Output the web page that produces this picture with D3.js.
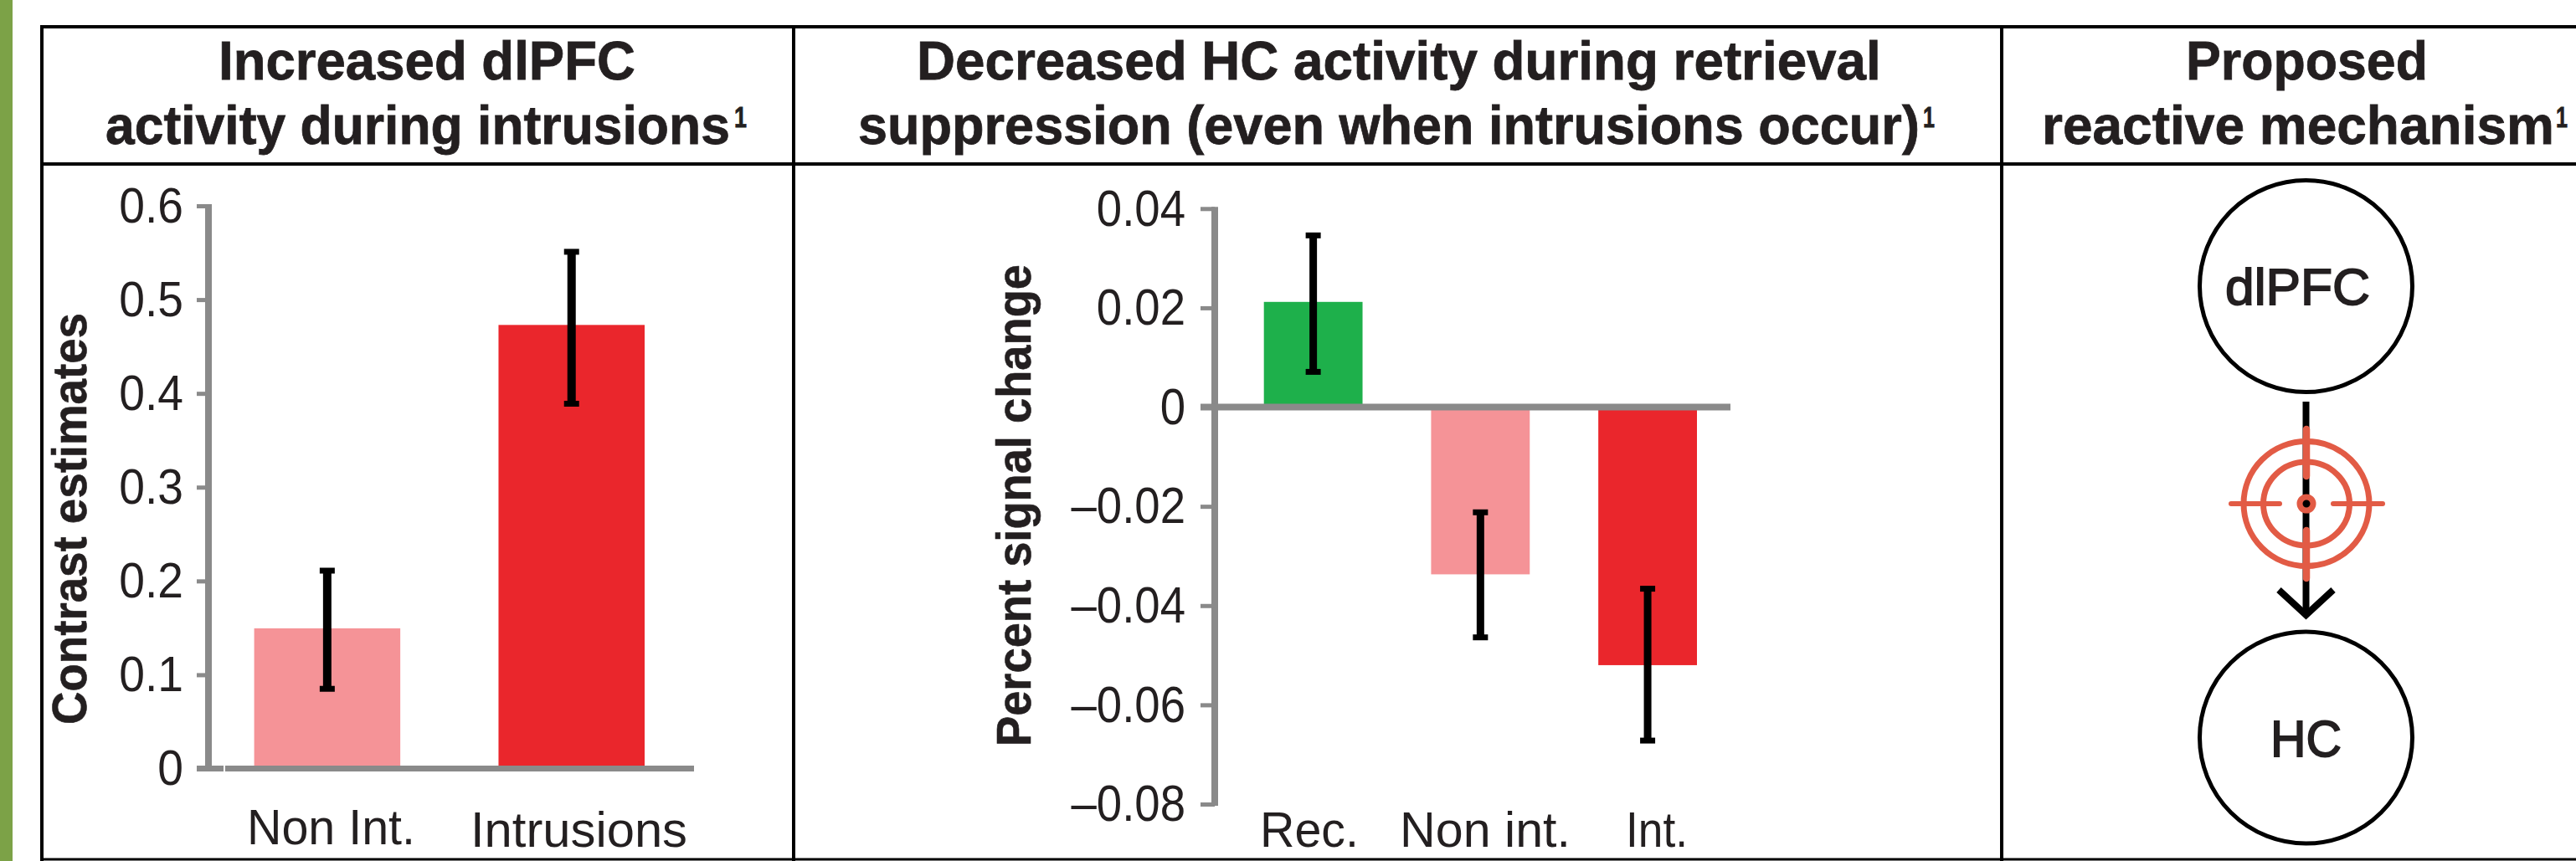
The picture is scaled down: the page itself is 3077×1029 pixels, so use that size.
<!DOCTYPE html>
<html><head><meta charset="utf-8">
<script src="https://cdnjs.cloudflare.com/ajax/libs/d3/7.8.5/d3.min.js"></script>
<style>html,body{margin:0;padding:0;background:#fff}svg{display:block}text{font-family:"Liberation Sans",Arial,sans-serif;fill:#231f20}</style>
</head><body><svg id="c" width="3077" height="1029"></svg>
<script>
// ---- data ----
const cats1 = ["Non Int.", "Intrusions"];
const vals1 = [0.1495, 0.473];
const errLo1 = [0.085, 0.389];
const errHi1 = [0.211, 0.551];
const ticks1 = [0, 0.1, 0.2, 0.3, 0.4, 0.5, 0.6];
const cats2 = ["Rec.", "Non int.", "Int."];
const vals2 = [0.0212, -0.0337, -0.052];
const errLo2 = [0.0071, -0.0464, -0.0672];
const errHi2 = [0.0346, -0.0212, -0.0366];
const ticks2 = [0.04, 0.02, 0, -0.02, -0.04, -0.06, -0.08];
const pink = "#f59397", red = "#ea262c", green = "#1eb04b", gray = "#8a8a8a";
const colors1 = [pink, red];
const colors2 = [green, pink, red];

const svg = d3.select("#c");
const INK = "#000";

// ---- strip and table frame ----
svg.append("rect").attr("x",0).attr("y",0).attr("width",15).attr("height",1029).attr("fill","#7ca247");
const hl = (x1,x2,y,w)=>svg.append("line").attr("x1",x1).attr("x2",x2).attr("y1",y).attr("y2",y).attr("stroke",INK).attr("stroke-width",w);
const vl = (x,y1,y2,w)=>svg.append("line").attr("x1",x).attr("x2",x).attr("y1",y1).attr("y2",y2).attr("stroke",INK).attr("stroke-width",w);
hl(48,3077,32,4); hl(48,3077,196,4); hl(48,3077,1027,3);
vl(50,30,1029,4); vl(948,30,1029,4); vl(2391,30,1029,4);

// ---- titles ----
function fit(x1,x2,base,txt,size,weight){
  const t = svg.append("text").attr("font-size",size).attr("font-weight",weight||"bold")
    .attr("stroke","#231f20").attr("stroke-width",0.8).text(txt);
  const w = t.node().getComputedTextLength();
  t.attr("transform",`translate(${x1},${base}) scale(${(x2-x1)/w},1)`);
  return t;
}
fit(261,759,95,"Increased dlPFC",64);
fit(126,872,172,"activity during intrusions",64);
fit(877,892,152,"1",36);
fit(1095,2247,95,"Decreased HC activity during retrieval",64);
fit(1025,2293,172,"suppression (even when intrusions occur)",64);
fit(2297,2311,152,"1",36);
fit(2611,2900,95,"Proposed",64);
fit(2439,3051,172,"reactive mechanism",64);
fit(3053,3067,152,"1",36);

// ---- bar panel ----
function panel(o){
  const g = svg.append("g");
  const y = d3.scaleLinear().domain(o.domain).range(o.yRange);
  const x = d3.scaleBand().domain(o.cats).range(o.xRange).paddingInner(o.pad).paddingOuter(0);
  const rows = o.cats.map((c,i)=>({c,v:o.vals[i],lo:o.lo[i],hi:o.hi[i],col:o.colors[i]}));
  g.selectAll("rect.bar").data(rows).join("rect").attr("class","bar")
    .attr("x",d=>x(d.c)).attr("width",x.bandwidth())
    .attr("y",d=>Math.min(y(d.v),y(0))).attr("height",d=>Math.abs(y(d.v)-y(0)))
    .attr("fill",d=>d.col);

  const ax = g.append("g").attr("transform",`translate(${o.axisX},0)`)
    .call(d3.axisLeft(y).tickValues(o.ticks).tickSize(o.tick).tickSizeOuter(0).tickPadding(o.tickPad)
      .tickFormat(v=>v===0?"0":(v<0?"\u2013":"")+Math.abs(v).toFixed(o.dec)));
  ax.select(".domain").attr("stroke",gray).attr("stroke-width",8).attr("d",`M0,${y.range()[1]-2}V${y.range()[0]+2}`);
  ax.selectAll(".tick line").attr("stroke",gray).attr("stroke-width",5);
  ax.selectAll(".tick text").attr("font-size",o.tickFont).attr("fill","#231f20").attr("font-family","Liberation Sans").attr("dy",o.tickDy)
    .each(function(){
      const w=this.getComputedTextLength();
      d3.select(this).attr("textLength",w*o.tickSqueeze).attr("lengthAdjust","spacingAndGlyphs");
    });

  // baseline
  g.append("line").attr("x1",o.base[0]).attr("x2",o.base[1]).attr("y1",y(0)).attr("y2",y(0)).attr("stroke",gray).attr("stroke-width",o.baseW);
  if(o.stub) g.append("line").attr("x1",o.stub[0]).attr("x2",o.stub[1]).attr("y1",y(0)).attr("y2",y(0)).attr("stroke",gray).attr("stroke-width",o.baseW);

  // error bars
  const cx = d=>x(d.c)+x.bandwidth()/2;
  g.selectAll("line.stem").data(rows).join("line").attr("class","stem")
    .attr("x1",cx).attr("x2",cx).attr("y1",d=>y(d.hi)).attr("y2",d=>y(d.lo)).attr("stroke",INK).attr("stroke-width",o.stemW);
  ["hi","lo"].forEach(k=>{
    g.selectAll("line.cap"+k).data(rows).join("line").attr("class","cap"+k)
      .attr("x1",d=>cx(d)-o.capW/2).attr("x2",d=>cx(d)+o.capW/2)
      .attr("y1",d=>y(d[k])).attr("y2",d=>y(d[k])).attr("stroke",INK).attr("stroke-width",7);
  });

  // category labels
  g.selectAll("text.cat").data(rows).join("text").attr("class","cat")
    .attr("x",(d,i)=>o.catX[i][0]).attr("y",(d,i)=>o.catBase[i])
    .attr("font-size",o.catFont).attr("textLength",(d,i)=>o.catX[i][1]-o.catX[i][0])
    .attr("lengthAdjust","spacingAndGlyphs").text(d=>d.c);

  // y title
  const t = o.title;
  g.append("text").attr("transform",`translate(${t.x},${t.y2}) rotate(-90)`).attr("font-size",t.size).attr("font-weight","bold")
    .attr("textLength",t.y2-t.y1).attr("lengthAdjust","spacingAndGlyphs").attr("stroke","#231f20").attr("stroke-width",0.6).text(t.text);
}

panel({cats:cats1,vals:vals1,lo:errLo1,hi:errHi1,colors:colors1,ticks:ticks1,dec:1,
  domain:[0,0.6],yRange:[918.5,246],xRange:[303.6,770],pad:0.402,axisX:249,tick:14,tickPad:16,tickFont:60,tickSqueeze:0.92,tickDy:"0.32em",
  base:[269,829],stub:[235,267],baseW:7,stemW:10,capW:18,
  catX:[[295,496],[562,821]],catBase:[1009,1012],catFont:60,
  title:{text:"Contrast estimates",x:103,y1:374,y2:866,size:57}});

panel({cats:cats2,vals:vals2,lo:errLo2,hi:errHi2,colors:colors2,ticks:ticks2,dec:2,
  domain:[-0.08,0.04],yRange:[961,249.3],xRange:[1509.7,2027],pad:0.41,axisX:1451,tick:17,tickPad:18,tickFont:62,tickSqueeze:0.88,tickDy:"0.32em",
  base:[1451,2067],stub:[1434,1451],baseW:8,stemW:9,capW:18,
  catX:[[1505,1623],[1672,1876],[1942,2016]],catBase:[1012,1012,1012],catFont:60,
  title:{text:"Percent signal change",x:1231,y1:316,y2:892,size:57}});

// ---- mechanism diagram ----
const mech = svg.append("g");
const nodes = [{t:"dlPFC",cy:342,x1:2658,x2:2831,b:364},{t:"HC",cy:881.5,x1:2712,x2:2797,b:904}];
mech.selectAll("ellipse.node").data(nodes).join("ellipse").attr("class","node")
  .attr("cx",2754.5).attr("cy",d=>d.cy).attr("rx",127).attr("ry",126.5).attr("fill","#fff").attr("stroke",INK).attr("stroke-width",5);
mech.selectAll("text.node").data(nodes).join("text").attr("class","node")
  .attr("x",d=>d.x1).attr("y",d=>d.b).attr("font-size",62).attr("textLength",d=>d.x2-d.x1).attr("lengthAdjust","spacingAndGlyphs")
  .attr("stroke","#231f20").attr("stroke-width",1.8).text(d=>d.t);
// arrow
mech.append("line").attr("x1",2754.5).attr("x2",2754.5).attr("y1",480).attr("y2",736).attr("stroke",INK).attr("stroke-width",8);
mech.append("path").attr("d","M2722,705L2754.5,735L2787,705").attr("fill","none").attr("stroke",INK).attr("stroke-width",8);
// target
const T="#e25b45";
[[75,74.5],[51.5,50]].forEach(r=>mech.append("ellipse").attr("cx",2755).attr("cy",602).attr("rx",r[0]).attr("ry",r[1]).attr("fill","none").attr("stroke",T).attr("stroke-width",7));
mech.append("ellipse").attr("cx",2755).attr("cy",602).attr("rx",8).attr("ry",8).attr("fill",INK).attr("stroke",T).attr("stroke-width",7);
[[2665,2723],[2787,2846]].forEach(s=>mech.append("line").attr("x1",s[0]).attr("x2",s[1]).attr("y1",602).attr("y2",602).attr("stroke",T).attr("stroke-width",6).attr("stroke-linecap","round"));
[[513,569],[634,691]].forEach(s=>mech.append("line").attr("x1",2755).attr("x2",2755).attr("y1",s[0]).attr("y2",s[1]).attr("stroke",T).attr("stroke-width",8.5).attr("stroke-linecap","round"));
</script></body></html>
